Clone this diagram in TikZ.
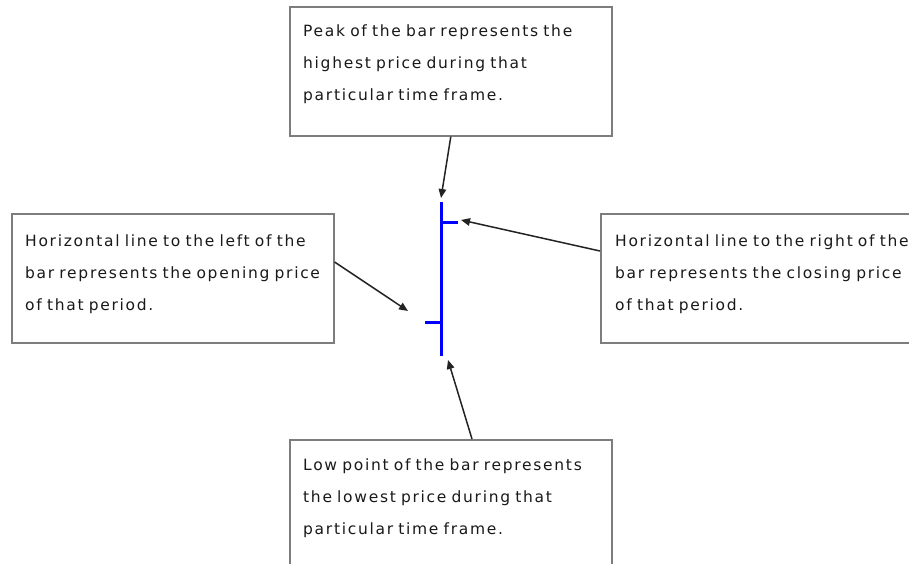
\documentclass[tikz,border=0pt]{standalone}
\usepackage{fontspec}
\setmainfont{DejaVu Sans}[LetterSpace=11.0]
\usetikzlibrary{arrows.meta}
\definecolor{boxgray}{RGB}{125,125,125}
\definecolor{txtgray}{RGB}{25,25,25}
\definecolor{arrgray}{RGB}{35,35,35}
\tikzset{
  infobox/.style={draw=boxgray, line width=1.6pt, fill=white, rectangle, inner sep=0pt, anchor=north west, minimum width=322pt, minimum height=129pt},
  infotext/.style={anchor=base west, inner sep=0pt, text width=340pt, align=left, text=txtgray, font=\fontsize{15.5}{32}\selectfont},
  pointer/.style={draw=arrgray, line width=1.5pt, -{Triangle[length=9pt,width=7.5pt]}},
  barline/.style={draw=blue, line width=3pt}
}
\begin{document}
\begin{tikzpicture}[x=1pt,y=-1pt]
\useasboundingbox (0,0) rectangle (909,564);
\clip (0,0) rectangle (909,564);
% boxes
\node[infobox] (topbox) at (289,6) {};
\node[infobox] (leftbox) at (11,213) {};
\node[infobox, minimum width=330pt] (rightbox) at (600,213) {};
\node[infobox] (botbox) at (289,439) {};
% texts
\node[infotext] (toptext) at (303,37) {Peak of the bar represents the\\highest price during that\\particular time frame.};
\node[infotext] (lefttext) at (25,246) {Horizontal line to the left of the\\bar represents the opening price\\of that period.};
\node[infotext] (righttext) at (615,246) {Horizontal line to the right of the\\bar represents the closing price\\of that period.};
\node[infotext] (bottext) at (303,470) {Low point of the bar represents\\the lowest price during that\\particular time frame.};
% bar
\coordinate (bartop) at (441,202);
\coordinate (barbot) at (441,356);
\coordinate (closeend) at (458,222);
\coordinate (openend) at (425,322);
\draw[barline] (bartop) -- (barbot);
\draw[barline] (441,222) -- (closeend);
\draw[barline] (441,322) -- (openend);
% arrow targets
\coordinate (tipTop) at (441,198);
\coordinate (tipRight) at (461,220);
\coordinate (tipLeft) at (408,311);
\coordinate (tipBot) at (448,360);
\draw[pointer] (topbox.south) -- (tipTop);
\draw[pointer] ([yshift=-38pt]rightbox.north west) -- (tipRight);
\draw[pointer] ([yshift=-49pt]leftbox.north east) -- (tipLeft);
\draw[pointer] ([xshift=183pt]botbox.north west) -- (tipBot);
\end{tikzpicture}
\end{document}
